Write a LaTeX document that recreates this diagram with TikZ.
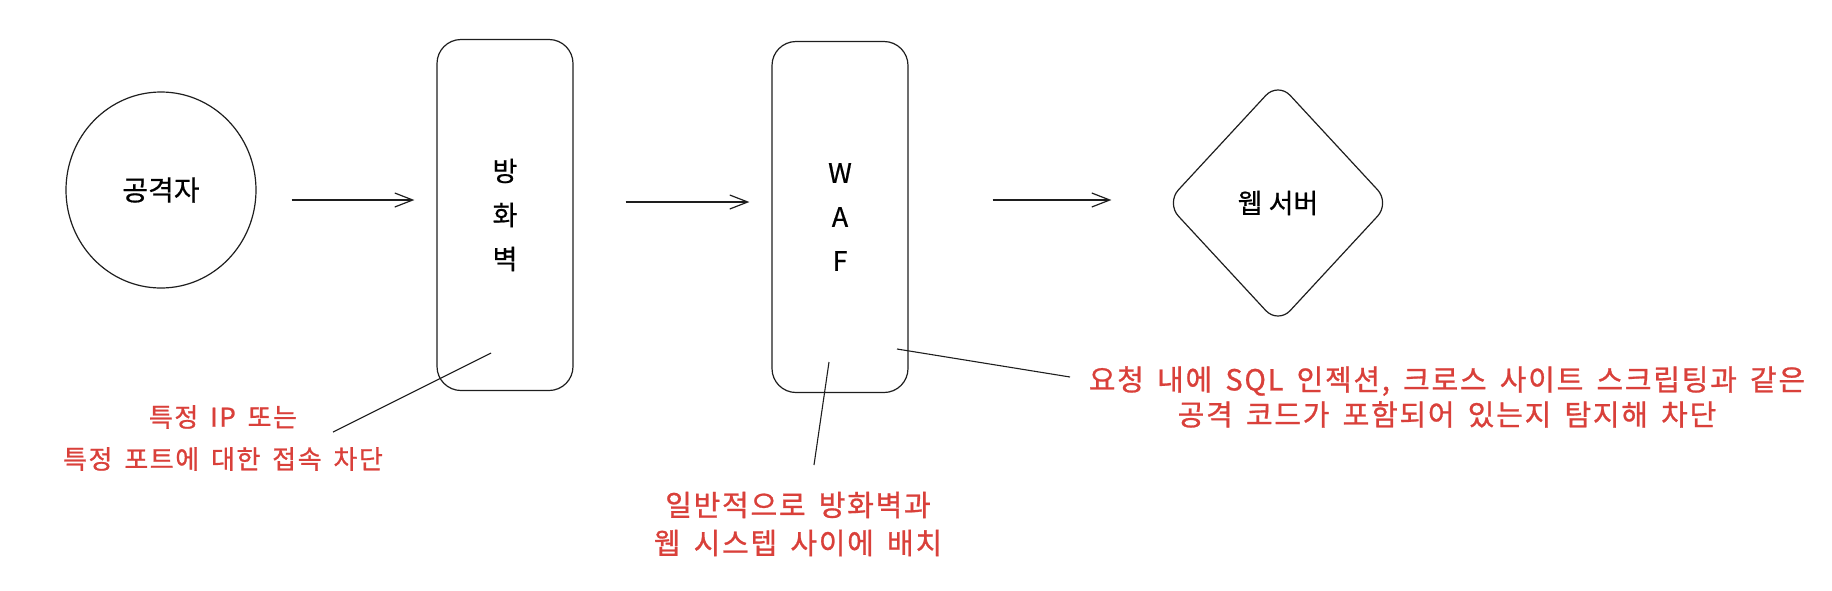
\documentclass[tikz,border=0pt]{standalone}
\usepackage{fontspec}
\setmainfont{Noto Sans CJK KR}[FakeBold=0.6]
\newfontfamily\notefont{Noto Sans CJK KR}[LetterSpace=6,WordSpace=1.6,FakeBold=0.9]
\usetikzlibrary{shapes.geometric,arrows.meta}
\definecolor{ink}{HTML}{1E1E1E}
\definecolor{redtxt}{HTML}{D9403A}
\begin{document}
\begin{tikzpicture}[x=0.5pt,y=-0.5pt,
  line width=0.6pt,
  tallbox/.style={draw=ink, rounded corners=12pt, minimum width=68pt, minimum height=175.5pt,
    inner sep=0pt, align=center, font=\fontsize{13.5}{22}\selectfont},
  blob/.style={draw=ink, ellipse, minimum width=95pt, minimum height=98pt, inner sep=0pt,
    font=\fontsize{14}{16}\selectfont},
  server/.style={draw=ink, diamond, rounded corners=9pt, minimum width=112pt, minimum height=121pt,
    inner sep=0pt, font=\fontsize{13.5}{16}\selectfont},
  note/.style={text=redtxt, align=center, inner sep=0pt},
  flow/.style={draw=ink, -{Straight Barb[length=9pt,width=7pt,line width=0.6pt]}},
  lead/.style={draw=ink, line width=0.55pt}]
\useasboundingbox (0,0) rectangle (1832,590);
% nodes
\node[blob] (att) at (161,190) {공격자};
\node[tallbox] (fw) at (505,215) {방\\화\\벽};
\node[tallbox] (waf) at (840,217) {W\\A\\F};
\node[server] (web) at (1278,203) {웹 서버};
% annotations
\node[note, font=\notefont\fontsize{13}{21}\selectfont] (n1) at (223,438) {특정 IP 또는\\특정 포트에 대한 접속 차단};
\node[note, font=\notefont\fontsize{14.5}{19}\selectfont] (n2) at (798,524) {일반적으로 방화벽과\\웹 시스텝 사이에 배치};
\node[note, font=\notefont\fontsize{14.5}{17.5}\selectfont] (n3) at (1447,397) {요청 내에 SQL 인젝션, 크로스 사이트 스크립팅과 같은\\공격 코드가 포함되어 있는지 탐지해 차단};
% flow arrows
\draw[flow] ([shift={(35,10)}]att.east) -- ([shift={(-22,-15)}]fw.west);
\draw[flow] ([shift={(52,-13)}]fw.east) -- ([shift={(-22,-15)}]waf.west);
\draw[flow] ([shift={(84,-17)}]waf.east) -- ([shift={(-54,-3)}]web.west);
% leader lines
\coordinate (a1) at (491,353);
\coordinate (b1) at (333,432);
\coordinate (a2) at (829,362);
\coordinate (b2) at (814,465);
\coordinate (a3) at (897,349);
\coordinate (b3) at (1070,377);
\draw[lead] (a1) -- (b1);
\draw[lead] (a2) -- (b2);
\draw[lead] (a3) -- (b3);
\end{tikzpicture}
\end{document}
